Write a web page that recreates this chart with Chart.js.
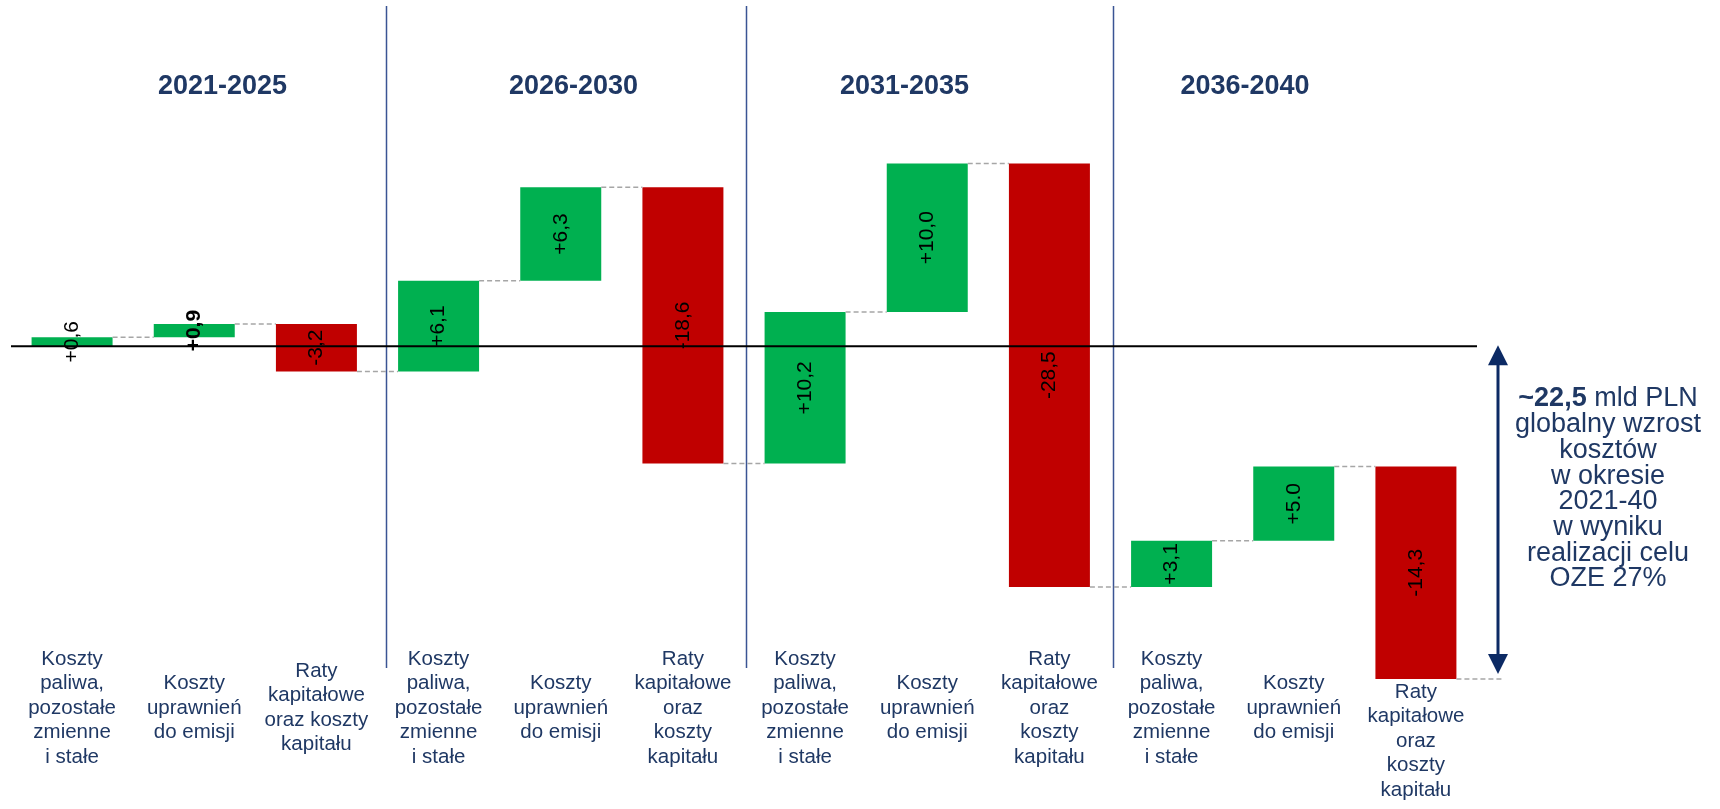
<!DOCTYPE html>
<html lang="pl">
<head>
<meta charset="UTF-8">
<title>Wzrost kosztów 2021-2040</title>
<script src="https://cdn.jsdelivr.net/npm/chart.js@4.4.1/dist/chart.umd.min.js"></script>
<style>
  html, body { margin: 0; padding: 0; background: #fff; }
  #wrap { width: 1720px; height: 809px; position: relative; }
</style>
</head>
<body>
<div id="wrap"><canvas id="wykres"></canvas></div>
<script>
const okresy = ['2021-2025', '2026-2030', '2031-2035', '2036-2040'];

const kategorie = [
    ['Koszty', 'paliwa,', 'pozostałe', 'zmienne', 'i stałe'],
    ['Koszty', 'uprawnień', 'do emisji'],
    ['Raty', 'kapitałowe', 'oraz koszty', 'kapitału'],
    ['Koszty', 'paliwa,', 'pozostałe', 'zmienne', 'i stałe'],
    ['Koszty', 'uprawnień', 'do emisji'],
    ['Raty', 'kapitałowe', 'oraz', 'koszty', 'kapitału'],
    ['Koszty', 'paliwa,', 'pozostałe', 'zmienne', 'i stałe'],
    ['Koszty', 'uprawnień', 'do emisji'],
    ['Raty', 'kapitałowe', 'oraz', 'koszty', 'kapitału'],
    ['Koszty', 'paliwa,', 'pozostałe', 'zmienne', 'i stałe'],
    ['Koszty', 'uprawnień', 'do emisji'],
    ['Raty', 'kapitałowe', 'oraz', 'koszty', 'kapitału']
];

// zmiany w mld PLN
const wartosci = [0.6, 0.9, -3.2, 6.1, 6.3, -18.6, 10.2, 10.0, -28.5, 3.1, 5.0, -14.3];
const etykiety = ['+0,6', '+0,9', '-3,2', '+6,1', '+6,3', '-18,6', '+10,2', '+10,0', '-28,5', '+3,1', '+5.0', '-14,3'];

const podsumowanie = ['globalny wzrost', 'kosztów', 'w okresie', '2021-40', 'w wyniku', 'realizacji celu', 'OZE 27%'];
const sumaTekst = '~22,5';

const ZIELONY = '#00B050';
const CZERWONY = '#C00000';
const GRANAT = '#1F3864';
const FONT = '"Liberation Sans", Arial, sans-serif';

// slupki "plywajace" - od poziomu poprzedniego do nowego
let poziom = 0;
const slupki = wartosci.map(v => {
    const od = poziom;
    poziom = Math.round((poziom + v) * 10) / 10;
    return [od, poziom];
});
const poziomKoncowy = poziom;

// pozycje w jednostkach osi kategorii
const linieOkresow = [2.57, 5.516, 8.52];
const naglowkiX = [1.231, 4.104, 6.814, 9.601];

const opisy = {
    id: 'opisy',
    beforeDatasetsDraw(chart) {
        const ctx = chart.ctx;
        const x = chart.scales.x;
        ctx.save();
        ctx.strokeStyle = '#3A5494';
        ctx.lineWidth = 1.5;
        linieOkresow.forEach(p => {
            const px = Math.round(x.getPixelForValue(p)) + 0.5;
            ctx.beginPath();
            ctx.moveTo(px, 6);
            ctx.lineTo(px, 668);
            ctx.stroke();
        });

        ctx.fillStyle = GRANAT;
        ctx.font = 'bold 27px ' + FONT;
        ctx.textAlign = 'center';
        ctx.textBaseline = 'middle';
        okresy.forEach((o, i) => ctx.fillText(o, x.getPixelForValue(naglowkiX[i]), 87));
        ctx.restore();
    },
    afterDatasetsDraw(chart) {
        const ctx = chart.ctx;
        const area = chart.chartArea;
        const y = chart.scales.y;
        const bary = chart.getDatasetMeta(0).data;
        const y0 = y.getPixelForValue(0);
        const strzalkaX = area.right + 21;

        ctx.save();

        // przerywane laczniki miedzy slupkami
        ctx.strokeStyle = '#A6A6A6';
        ctx.lineWidth = 1.5;
        ctx.setLineDash([5, 3]);
        bary.forEach((b, i) => {
            const py = y.getPixelForValue(slupki[i][1]);
            const x1 = b.x + b.width / 2;
            const x2 = i < bary.length - 1 ? bary[i + 1].x - bary[i + 1].width / 2 : strzalkaX + 4;
            ctx.beginPath();
            ctx.moveTo(x1, py);
            ctx.lineTo(x2, py);
            ctx.stroke();
        });
        ctx.setLineDash([]);

        // linia zera
        ctx.strokeStyle = '#000';
        ctx.lineWidth = 2;
        ctx.beginPath();
        ctx.moveTo(area.left, y0);
        ctx.lineTo(area.right, y0);
        ctx.stroke();

        // wartosci w slupkach
        ctx.fillStyle = '#000';
        ctx.textAlign = 'center';
        ctx.textBaseline = 'middle';
        bary.forEach((b, i) => {
            const srodek = (y.getPixelForValue(slupki[i][0]) + y.getPixelForValue(slupki[i][1])) / 2;
            ctx.save();
            ctx.translate(b.x, srodek);
            ctx.rotate(-Math.PI / 2);
            ctx.font = (i === 1 ? 'bold ' : '') + '21px ' + FONT;
            ctx.fillText(etykiety[i], 0, 0);
            ctx.restore();
        });

        // podpisy kategorii
        ctx.fillStyle = GRANAT;
        ctx.font = '20.5px ' + FONT;
        const odstep = 24.5;
        bary.forEach((b, i) => {
            const linie = kategorie[i];
            const dol = y.getPixelForValue(Math.min(slupki[i][0], slupki[i][1]));
            const start = Math.max(708 - (linie.length - 1) * odstep / 2, dol + 13);
            linie.forEach((t, k) => ctx.fillText(t, b.x, start + k * odstep));
        });

        // strzalka z sumaryczna zmiana
        const yKon = y.getPixelForValue(poziomKoncowy);
        ctx.strokeStyle = '#0C2A64';
        ctx.fillStyle = '#0C2A64';
        ctx.lineWidth = 3;
        ctx.beginPath();
        ctx.moveTo(strzalkaX, y0 + 16);
        ctx.lineTo(strzalkaX, yKon - 20);
        ctx.stroke();
        ctx.beginPath();
        ctx.moveTo(strzalkaX, y0 - 1);
        ctx.lineTo(strzalkaX - 10, y0 + 19);
        ctx.lineTo(strzalkaX + 10, y0 + 19);
        ctx.closePath();
        ctx.fill();
        ctx.beginPath();
        ctx.moveTo(strzalkaX, yKon - 5);
        ctx.lineTo(strzalkaX - 10, yKon - 25);
        ctx.lineTo(strzalkaX + 10, yKon - 25);
        ctx.closePath();
        ctx.fill();

        // opis sumy
        const tx = area.right + 131;
        const ty = 399;
        const krok = 25.7;
        ctx.fillStyle = GRANAT;
        ctx.textBaseline = 'middle';
        ctx.font = 'bold 27px ' + FONT;
        const wB = ctx.measureText(sumaTekst).width;
        ctx.font = '27px ' + FONT;
        const reszta = ' mld PLN';
        const wR = ctx.measureText(reszta).width;
        const lewy = tx - (wB + wR) / 2;
        ctx.textAlign = 'left';
        ctx.font = 'bold 27px ' + FONT;
        ctx.fillText(sumaTekst, lewy, ty);
        ctx.font = '27px ' + FONT;
        ctx.fillText(reszta, lewy + wB, ty);
        ctx.textAlign = 'center';
        podsumowanie.forEach((t, k) => ctx.fillText(t, tx, ty + (k + 1) * krok));

        ctx.restore();
    }
};

new Chart(document.getElementById('wykres'), {
    type: 'bar',
    data: {
        labels: kategorie.map(k => k.join(' ')),
        datasets: [{
            data: slupki,
            backgroundColor: wartosci.map(v => v >= 0 ? ZIELONY : CZERWONY),
            borderWidth: 0,
            barPercentage: 0.663,
            categoryPercentage: 1
        }]
    },
    options: {
        responsive: true,
        maintainAspectRatio: false,
        animation: false,
        devicePixelRatio: 1,
        layout: { padding: { left: 11, right: 243, top: 49, bottom: 17 } },
        plugins: { legend: { display: false }, tooltip: { enabled: false } },
        scales: {
            x: { display: false, offset: true },
            y: { display: false, min: -30, max: 20 }
        }
    },
    plugins: [opisy]
});
</script>
</body>
</html>
